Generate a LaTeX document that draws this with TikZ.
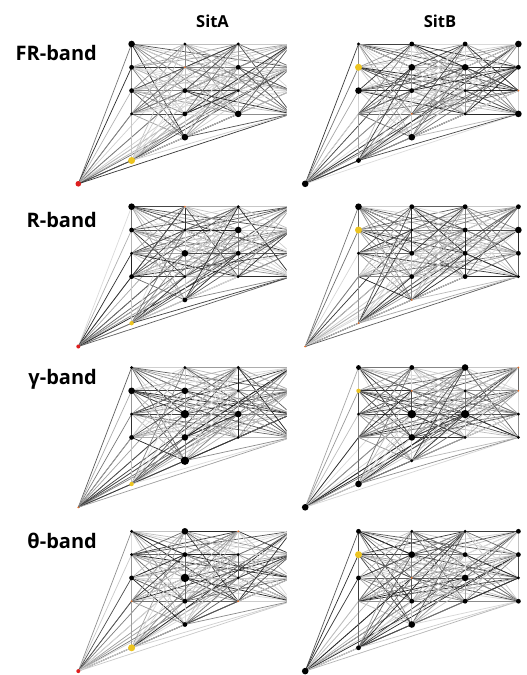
\documentclass[tikz,border=0pt]{standalone}
\usepackage{fontspec}
\setmainfont{Open Sans}
\definecolor{dotyellow}{RGB}{236,196,32}
\definecolor{dotred}{RGB}{222,30,30}
\definecolor{dotorange}{RGB}{226,110,40}
\tikzset{
  dotbase/.style={circle,inner sep=0pt,draw=none},
  dotL/.style={dotbase,fill=black,minimum size=6.6pt},
  dotX/.style={dotbase,fill=black,minimum size=8.4pt},
  dotM/.style={dotbase,fill=black,minimum size=4.8pt},
  dotS/.style={dotbase,fill=black,minimum size=3.2pt},
  dotT/.style={dotbase,fill=dotorange,minimum size=2pt},
  dotN/.style={dotbase,minimum size=0pt},
  dotY/.style={dotbase,fill=dotyellow,minimum size=7pt},
  dotYs/.style={dotbase,fill=dotyellow,minimum size=4.4pt},
  dotR/.style={dotbase,fill=dotred,minimum size=5.6pt},
  dotRs/.style={dotbase,fill=dotred,minimum size=4pt},
  edge/.style={line width=0.7pt},
  bandlbl/.style={font=\bfseries\fontsize{20}{24}\selectfont,anchor=base east,inner sep=0pt},
  sitlbl/.style={font=\bfseries\fontsize{16.5}{20}\selectfont,anchor=base,inner sep=0pt}
}
\newcommand\drawpanel[5]{%
  \foreach \c/\r [count=\k from 0] in {0/7,1/1,1/2,1/3,1/4,1/6,2/1,2/2,2/3,2/4,2/5,3/1,3/2,3/3,3/4,4/1,4/2,4/3,4/4}
    {\coordinate (#1-\k) at ({#2+\c*53.3},{#3+(\r-1)*23.3});}
  \pgfmathsetseed{#4}
  \foreach \i in {0,...,18}{%
    \foreach \j in {0,...,18}{%
      \ifnum\j>\i\relax
        \pgfmathsetmacro\u{rnd}
        \pgfmathsetmacro\g{int(14+76*\u*sqrt(\u))}
        \draw[edge,draw=black!\g] (#1-\i) -- (#1-\j);
      \fi
    }}
  \foreach \s [count=\k from 0] in {#5}{\node[dot\s] (#1-\k-dot) at (#1-\k) {};}
}
\begin{document}
\begin{tikzpicture}[x=1pt,y=-1pt]
\useasboundingbox[fill=white] (0,0) rectangle (527,675);
\node[sitlbl] (hA) at (212.5,27) {SitA};
\node[sitlbl] (hB) at (440,27) {SitB};
\node[bandlbl] (lFR) at (97,60.7) {FR-band};
\node[bandlbl] (lR) at (97,227.3) {R-band};
\node[bandlbl] (lG) at (97,384.7) {γ-band};
\node[bandlbl] (lT) at (97,548.3) {θ-band};
\begin{scope}
\clip (0,0) rectangle (286.5,675);
\drawpanel{AF}{78.3}{44}{11}{R,L,M,M,S,Y,S,T,M,M,L,S,M,S,L,M,M,M,M}
\drawpanel{AR}{78.3}{206.7}{23}{Rs,L,M,S,M,Ys,T,S,L,S,M,S,L,M,S,M,M,M,M}
\drawpanel{AG}{78.3}{367.5}{37}{T,S,L,S,M,Ys,S,L,X,L,X,S,S,L,S,M,M,M,M}
\drawpanel{AT}{78.3}{531.3}{41}{Rs,S,S,M,T,Y,L,M,X,M,M,T,S,S,T,M,M,M,M}
\end{scope}
\drawpanel{BF}{305.2}{44}{53}{L,S,Y,L,N,M,M,L,M,T,L,M,L,S,S,L,M,T,L}
\drawpanel{BR}{305.2}{206.7}{67}{T,L,Y,S,N,T,M,S,M,M,T,M,M,M,M,M,L,M,S}
\drawpanel{BG}{305.2}{367.5}{71}{L,M,Ys,S,N,L,M,T,X,L,S,L,S,X,S,T,T,S,S}
\drawpanel{BT}{305.2}{531.3}{83}{L,M,Y,M,N,M,S,L,T,M,L,S,M,L,M,M,M,S,M}
\end{tikzpicture}
\end{document}
